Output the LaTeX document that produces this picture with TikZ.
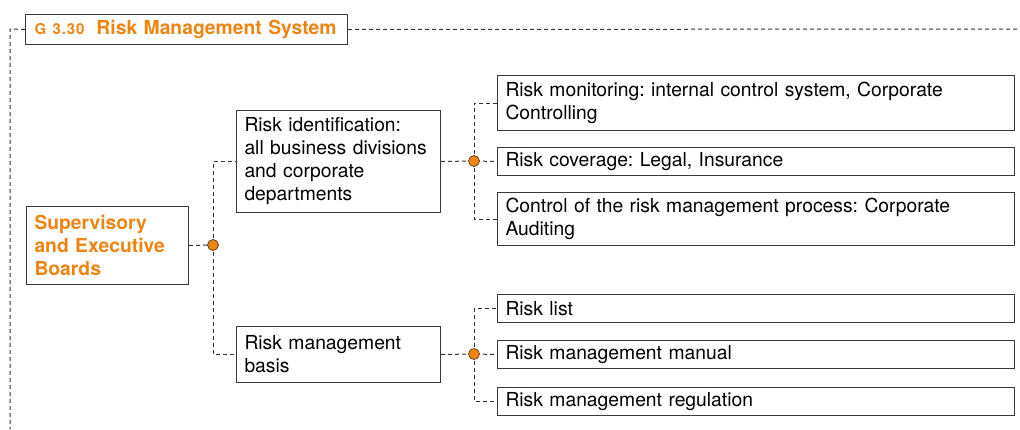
\documentclass[tikz,border=0pt]{standalone}
\usepackage{fontspec}
\setmainfont{TeX Gyre Heros}
\definecolor{rmorange}{HTML}{EE8512}
\definecolor{boxline}{HTML}{3A3A3A}
\definecolor{dashline}{HTML}{333333}
\definecolor{dotline}{HTML}{5A3A10}
\newcommand\rmbody{\fontsize{19.3}{23}\selectfont\frenchspacing}
\tikzset{
  rmbox/.style={draw=boxline, line width=1pt, rectangle, anchor=north west,
    align=left, inner xsep=8pt, inner ysep=0pt, font=\rmbody},
  rmlink/.style={draw=dashline, line width=1pt, dash pattern=on 4pt off 3pt},
  rmdot/.style={circle, fill=rmorange, draw=dotline, line width=0.7pt,
    inner sep=0pt, minimum size=11pt},
}
\begin{document}
\begin{tikzpicture}[x=1pt,y=-1pt]
\useasboundingbox (0,0) rectangle (1020,429);

% title
\node[rmbox, minimum width=322pt, minimum height=30pt, text width=304pt, inner xsep=9pt,
  text=rmorange] (title) at (25,14)
  {\bfseries{\fontsize{15}{16}\selectfont\addfontfeature{LetterSpace=6}G 3.30}\hspace{12pt}Risk Management System};
\coordinate (tl) at (10,29);
\coordinate (bl) at (10,429);
\coordinate (tr) at (1020,29);
\draw[rmlink] (title.west) -- (tl) -- (bl);
\draw[rmlink] (title.east) -- (tr);

% boxes
\node[rmbox, minimum width=162pt, minimum height=78pt, text width=146pt,
  text=rmorange, font=\rmbody\bfseries] (sup) at (26,206)
  {Supervisory\\and Executive\\Boards};
\node[rmbox, minimum width=204pt, minimum height=102pt, text width=188pt] (rid) at (236,110)
  {Risk identification:\\all business divisions\\and corporate\\departments};
\node[rmbox, minimum width=204pt, minimum height=56pt, text width=188pt] (rmb) at (236,326)
  {Risk management\\basis};

\node[rmbox, minimum width=517pt, minimum height=55pt, text width=501pt] (rmon) at (497,75)
  {Risk monitoring: internal control system, Corporate\\Controlling};
\node[rmbox, minimum width=517pt, minimum height=28pt, text width=501pt] (rcov) at (497,147)
  {Risk coverage: Legal, Insurance};
\node[rmbox, minimum width=517pt, minimum height=53pt, text width=501pt] (rctl) at (497,192)
  {Control of the risk management process: Corporate\\Auditing};

\node[rmbox, minimum width=517pt, minimum height=28pt, text width=501pt] (rlist) at (497,294)
  {Risk list};
\node[rmbox, minimum width=517pt, minimum height=28pt, text width=501pt] (rman) at (497,340)
  {Risk management manual};
\node[rmbox, minimum width=517pt, minimum height=28pt, text width=501pt] (rreg) at (497,387)
  {Risk management regulation};

% junctions
\coordinate (j1) at (213,245);
\coordinate (j2) at (474,161);
\coordinate (j3) at (474,354);

% connectors
\draw[rmlink] (sup.east) -- (j1);
\draw[rmlink] (j1) |- (rid.west);
\draw[rmlink] (j1) |- (rmb.west);

\draw[rmlink] (rid.east) -- (j2) -- (rcov.west);
\draw[rmlink] (j2) |- (rmon.west);
\draw[rmlink] (j2) |- (rctl.west);

\draw[rmlink] (rmb.east) -- (j3) -- (rman.west);
\draw[rmlink] (j3) |- (rlist.west);
\draw[rmlink] (j3) |- (rreg.west);

\node[rmdot] (d1) at (j1) {};
\node[rmdot] (d2) at (j2) {};
\node[rmdot] (d3) at (j3) {};
\end{tikzpicture}
\end{document}
